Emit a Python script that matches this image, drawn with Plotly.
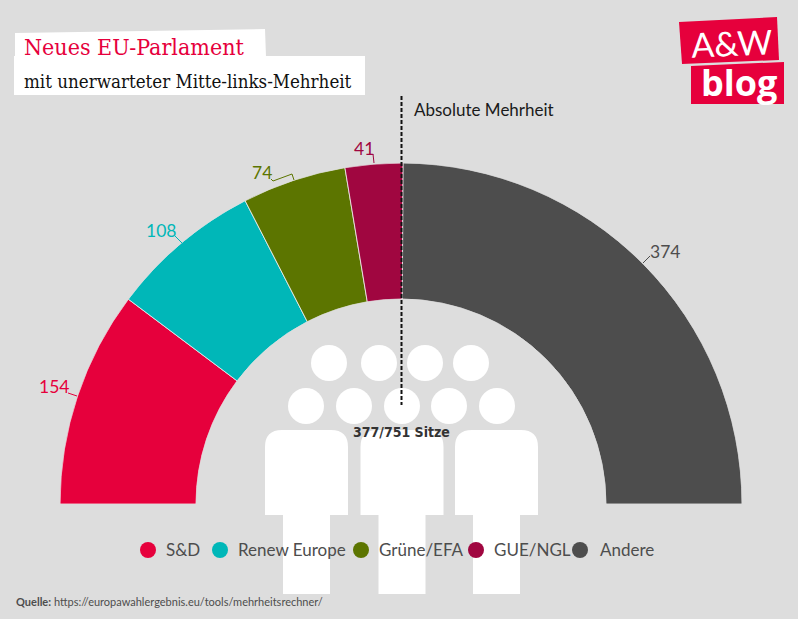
import plotly.graph_objects as go

W, H = 798, 619

parties = ["S&D", "Renew Europe", "Grüne/EFA", "GUE/NGL", "Andere"]
seats = [154, 108, 74, 41, 374]
colors = ["#e6003c", "#00b7b8", "#5c7500", "#a00640", "#4d4d4d"]
total_seats = 751

BODY_FONT = "Lato"
SLAB_FONT = "DejaVu Serif Condensed, Liberation Serif"
NARROW_FONT = "DejaVu Sans Condensed, Lato"


def px(x):
    return x / W


def py(y):
    return 1 - y / H


def poly(points, fill, layer="below"):
    path = "M " + " L ".join(f"{px(x)},{py(y)}" for x, y in points) + " Z"
    return dict(type="path", xref="paper", yref="paper", path=path, fillcolor=fill,
                line_width=0, layer=layer)


def leader(points, color):
    path = "M " + " L ".join(f"{px(x)},{py(y)}" for x, y in points)
    return dict(type="path", xref="paper", yref="paper", path=path,
                line=dict(color=color, width=1), layer="above")


def circle(cx, cy, r, fill, layer="below"):
    return dict(type="circle", xref="paper", yref="paper", fillcolor=fill, line_width=0, layer=layer,
                x0=px(cx - r), x1=px(cx + r), y0=py(cy + r), y1=py(cy - r))


def person_body(left):
    # torso with rounded shoulders plus legs
    r = 17
    right = left + 83
    leg_l, leg_r = left + 18, left + 65
    pts = [
        f"M {px(left)},{py(515)}",
        f"L {px(left)},{py(430 + r)}",
        f"Q {px(left)},{py(430)} {px(left + r)},{py(430)}",
        f"L {px(right - r)},{py(430)}",
        f"Q {px(right)},{py(430)} {px(right)},{py(430 + r)}",
        f"L {px(right)},{py(515)}",
        f"L {px(leg_r)},{py(515)}",
        f"L {px(leg_r)},{py(594)}",
        f"L {px(leg_l)},{py(594)}",
        f"L {px(leg_l)},{py(515)} Z",
    ]
    return dict(type="path", xref="paper", yref="paper", path=" ".join(pts),
                fillcolor="white", line_width=0, layer="below")


def label(x, y, text, color="#4d4d4d", size=17, font=BODY_FONT, anchor="left", angle=0):
    # annotations pad their text by about 2px
    if anchor == "left":
        x -= 2
    return dict(x=px(x), y=py(y), xref="paper", yref="paper", text=text, showarrow=False,
                xanchor=anchor, yanchor="middle", textangle=angle,
                font=dict(family=font, size=size, color=color))


# seats -> angle along the half circle
deg = [s / total_seats * 180 for s in seats]
mids = [(sum(deg[:i]) + d / 2) for i, d in enumerate(deg)]

fig = go.Figure(go.Barpolar(
    r=[1] * len(seats), theta=mids, width=deg,
    marker=dict(color=colors, line=dict(color="#f2f2f2", width=0.8)),
    text=parties, hoverinfo="text", showlegend=False,
))

shapes = [
    poly([(15, 33), (265, 29), (266, 57), (15, 57)], "white"),
    poly([(14, 56), (365, 56), (365, 95), (14, 95)], "white"),
    poly([(679, 22), (777, 17), (779, 60), (682, 64)], "#e6003c"),
    poly([(691, 66), (784, 62), (784, 104), (691, 104)], "#e6003c"),
]
for hx in [329, 379, 425, 471]:
    shapes.append(circle(hx, 363, 18, "white"))
for hx in [306, 354, 402, 449, 497]:
    shapes.append(circle(hx, 406, 18, "white"))
for left in [265, 360.5, 455]:
    shapes.append(person_body(left))

shapes.append(leader([(68, 393), (77, 396)], colors[0]))
shapes.append(leader([(175, 236), (182, 243)], colors[1]))
shapes.append(leader([(271, 179), (273, 181), (292, 174), (294, 180)], colors[2]))
shapes.append(leader([(373, 154), (374, 163)], colors[3]))
shapes.append(leader([(650, 256), (643, 263)], colors[4]))
shapes.append(dict(type="line", xref="paper", yref="paper", x0=px(401.5), x1=px(401.5),
                   y0=py(96), y1=py(405), layer="above",
                   line=dict(color="#111111", width=2, dash="4px,2px")))

legend_dots = [148, 220, 361, 476, 580]
legend_text = [166, 238, 379, 494, 600]
for dot, color in zip(legend_dots, colors):
    shapes.append(circle(dot, 550, 8, color, layer="above"))

annotations = [
    label(24, 47, "Neues EU-Parlament", colors[0], 23, SLAB_FONT),
    label(24, 81, "mit unerwarteter Mitte-links-Mehrheit", "#111111", 18.6, SLAB_FONT),
    label(731, 42, "A&W", "white", 34, "Lato", "center", -2.5),
    label(738.5, 83, "<b>blog</b>", "white", 36, "Open Sans", "center"),
    label(414, 109.5, "Absolute Mehrheit", "#1a1a1a", 17),
    label(401, 432, "<b>377/751 Sitze</b>", "#333333", 14, NARROW_FONT, "center"),
    label(39, 386, str(seats[0]), colors[0], 17.5),
    label(146, 230, str(seats[1]), colors[1], 17.5),
    label(252, 172, str(seats[2]), colors[2], 17.5),
    label(354, 148, str(seats[3]), colors[3], 17.5),
    label(650, 251, str(seats[4]), colors[4], 17.5),
    label(16, 601, "<b>Quelle:</b> https://europawahlergebnis.eu/tools/mehrheitsrechner/", "#4d4d4d", 11),
]
for x, name in zip(legend_text, parties):
    annotations.append(label(x, 549.5, name, size=17))

fig.update_layout(
    width=W, height=H,
    margin=dict(l=0, r=0, t=0, b=0),
    paper_bgcolor="#dddddd",
    plot_bgcolor="#dddddd",
    showlegend=False,
    shapes=shapes,
    annotations=annotations,
    polar=dict(
        domain=dict(x=[px(60), px(742)], y=[py(504), py(163)]),
        sector=[0, 180],
        hole=205 / 341,
        bgcolor="rgba(0,0,0,0)",
        radialaxis=dict(visible=False, range=[0, 1]),
        angularaxis=dict(visible=False, rotation=180, direction="clockwise"),
        barmode="overlay",
    ),
)

fig.write_html("out.html", config=dict(displayModeBar=False),
               post_script="document.body.style.margin='0';")
